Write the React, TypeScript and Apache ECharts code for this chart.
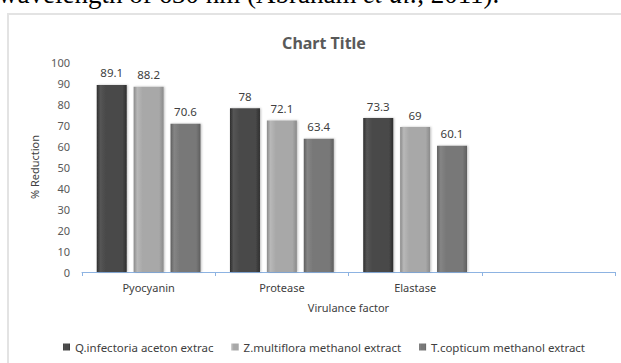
import React, { useEffect, useRef } from "react";
import * as echarts from "echarts";

const categories = ["Pyocyanin", "Protease", "Elastase", ""];
const seriesNames = [
  "Q.infectoria aceton extrac",
  "Z.multiflora methanol extract",
  "T.copticum methanol extract",
];
const qInfectoria = [89.1, 78, 73.3];
const zMultiflora = [88.2, 72.1, 69];
const tCopticum = [70.6, 63.4, 60.1];
const yTicks = { min: 0, max: 100, interval: 10 };

const FONT = "'Noto Sans', sans-serif";

function grad(edge: string, mid: string, light: string) {
  return new echarts.graphic.LinearGradient(0, 0, 1, 0, [
    { offset: 0, color: edge },
    { offset: 0.12, color: light },
    { offset: 0.3, color: mid },
    { offset: 0.85, color: mid },
    { offset: 1, color: edge },
  ]);
}

export default function App() {
  const ref = useRef<HTMLDivElement>(null);
  useEffect(() => {
    if (!ref.current) return;
    const chart = echarts.init(ref.current, undefined, { renderer: "svg" });
    const colors = [
      grad("#2e2e2e", "#4a4a4a", "#555555"),
      grad("#8a8a8a", "#a8a8a8", "#b8b8b8"),
      grad("#5e5e5e", "#787878", "#858585"),
    ];
    const data = [qInfectoria, zMultiflora, tCopticum];
    chart.setOption({
      animation: false,
      title: {
        text: "Chart Title",
        left: 319,
        top: 30,
        textAlign: "center",
        textStyle: { fontFamily: FONT, fontSize: 16, fontWeight: "bold", color: "#595959" },
      },
      graphic: [
        {
          type: "rect",
          shape: { x: 8, y: 14, width: 640, height: 360 },
          style: { fill: "none", stroke: "#e3e3e3", lineWidth: 2 },
          silent: true,
          z: -1,
        },
        {
          type: "text",
          x: -2,
          y: -6,
          style: {
            text: "{n|wavelength of 630 nm (Abraham }{i|et al.}{n|, 2011).}",
            verticalAlign: "middle",
            align: "left",
            fill: "#000",
            rich: {
              n: { fontFamily: "'Liberation Serif', serif", fontSize: 27, fill: "#000" },
              i: { fontFamily: "'Liberation Serif', serif", fontSize: 27, fontStyle: "italic", fill: "#000" },
            },
          },
        },
      ],
      legend: {
        data: seriesNames,
        left: 58,
        top: 336,
        icon: "rect",
        itemWidth: 7,
        itemHeight: 7,
        itemGap: 18,
        textStyle: { fontFamily: FONT, fontSize: 11.5, color: "#404040" },
      },
      grid: { left: 82, right: 6, top: 62, bottom: 91 },
      xAxis: {
        type: "category",
        data: categories,
        name: "Virulance factor",
        nameLocation: "middle",
        nameGap: 30,
        nameTextStyle: { fontFamily: FONT, fontSize: 11, color: "#404040" },
        axisLine: { lineStyle: { color: "#8db3e2", width: 1 } },
        axisTick: { show: true, length: 4, lineStyle: { color: "#8db3e2" } },
        axisLabel: { fontFamily: FONT, fontSize: 11, color: "#404040", margin: 10 },
      },
      yAxis: {
        type: "value",
        min: yTicks.min,
        max: yTicks.max,
        interval: yTicks.interval,
        name: "% Reduction",
        nameLocation: "middle",
        nameGap: 41,
        nameRotate: 90,
        nameTextStyle: { fontFamily: FONT, fontSize: 11, color: "#404040" },
        axisLine: { show: false },
        axisTick: { show: false },
        splitLine: { show: false },
        axisLabel: { fontFamily: FONT, fontSize: 11, color: "#595959", margin: 12 },
      },
      series: seriesNames.map((name, i) => ({
        name,
        type: "bar",
        data: data[i],
        barWidth: 30,
        barGap: "23%",
        itemStyle: {
          color: colors[i],
          shadowColor: "rgba(0,0,0,0.25)",
          shadowBlur: 2,
          shadowOffsetX: 1,
          shadowOffsetY: 0,
        },
        label: {
          show: true,
          position: "top",
          distance: 6,
          fontFamily: FONT,
          fontSize: 11.5,
          color: "#404040",
        },
      })),
    });
    return () => chart.dispose();
  }, []);
  return (
    <div
      ref={ref}
      style={{ position: "fixed", left: 0, top: 0, width: 621, height: 363, background: "#fff" }}
    />
  );
}
